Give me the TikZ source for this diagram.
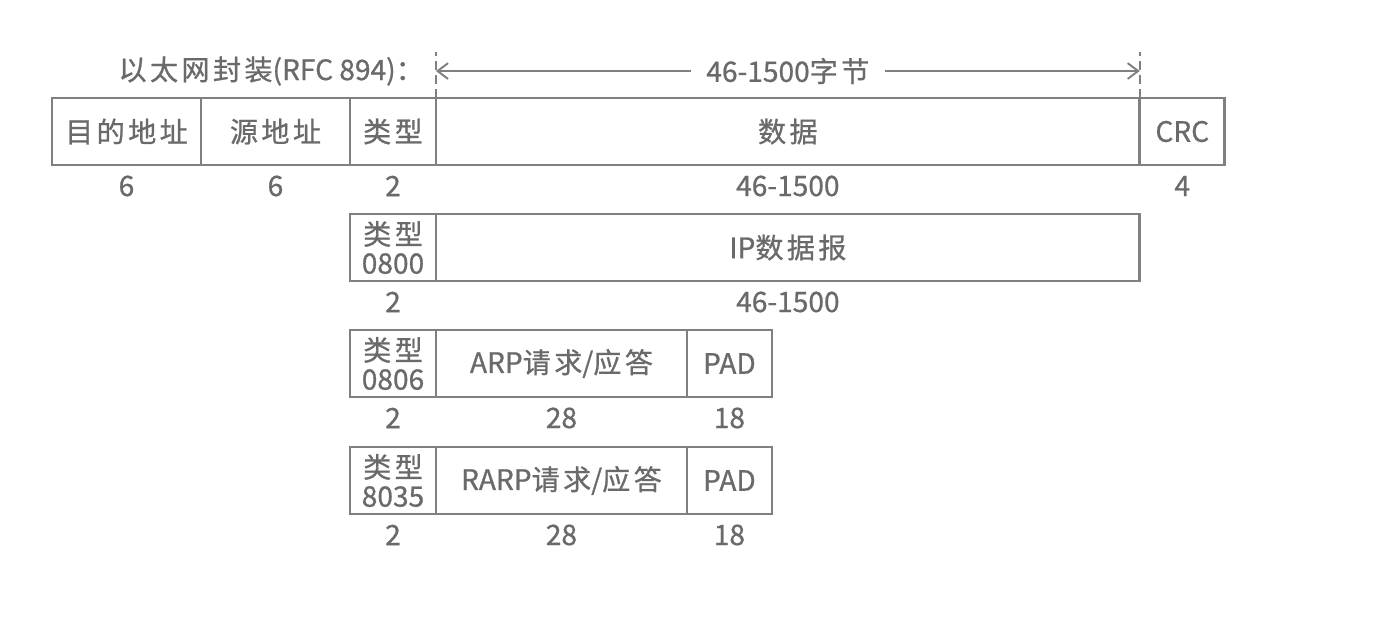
\documentclass[tikz,border=0pt]{standalone}
\usepackage{fontspec}
\setmainfont{Noto Sans CJK SC}[FakeBold=0.8]
\newfontfamily\zh{Noto Sans CJK SC}[FakeBold=0.8, LetterSpace=12]
\usepackage{xcolor}
\usetikzlibrary{arrows.meta, positioning}
\definecolor{linegray}{HTML}{808080}
\definecolor{textgray}{HTML}{6A6A6A}

\begin{document}
\begin{tikzpicture}[x=0.02cm, y=-0.02cm,
    field/.style={draw=linegray, line width=1.6pt, minimum height=1.34cm, inner sep=0pt,
      outer sep=0pt, text=textgray, font=\fontsize{16}{16.5}\selectfont, align=center},
    size/.style={text=textgray, font=\fontsize{16}{16.5}\selectfont},
    dim/.style={draw=linegray, line width=1.1pt, dash pattern=on 5pt off 3pt},
    arr/.style={{Straight Barb[length=6pt,width=9pt]}-{Straight Barb[length=6pt,width=9pt]}, draw=linegray, line width=1.1pt},
    node distance=0pt
  ]
  \useasboundingbox (0,0) rectangle (1400,627);
  % Ethernet frame
  \node[field, anchor=north west, minimum width=2.98cm] (dst) at (52,98) {\zh 目的地址};
  \node[field, minimum width=2.98cm, right=of dst] (src) {\zh 源地址};
  \node[field, minimum width=1.72cm, right=of src] (type) {\zh 类型};
  \node[field, minimum width=14.08cm, right=of type] (data) {\zh 数据};
  \node[field, minimum width=1.70cm, right=of data] (crc) {CRC};
  \node[size, anchor=east] (title) at (430,71) {{\zh 以太网封装}(RFC 894)：};
  \node[size] at ([yshift=-0.42cm]dst.south) {6};
  \node[size] at ([yshift=-0.42cm]src.south) {6};
  \node[size] at ([yshift=-0.42cm]type.south) {2};
  \node[size] at ([yshift=-0.42cm]data.south) {46-1500};
  \node[size] at ([yshift=-0.42cm]crc.south) {4};
  % data length
  \coordinate (dl) at ([yshift=0.92cm]data.north west);
  \coordinate (dr) at ([yshift=0.92cm]data.north east);
  \coordinate (al) at ([yshift=0.54cm]data.north west);
  \coordinate (ar) at ([yshift=0.54cm]data.north east);
  \draw[dim] (data.north west) -- (dl);
  \draw[dim] (data.north east) -- (dr);
  \draw[arr] (al) -- (ar) node[midway, fill=white, size, inner xsep=9pt] {46-1500{\zh 字节}};
  % IP
  \node[field, anchor=north west, minimum width=1.72cm] (iptype) at (350,214) {{\zh 类型}\\0800};
  \node[field, minimum width=14.08cm, right=of iptype] (ip) {IP{\zh 数据报}};
  \node[size] at ([yshift=-0.42cm]iptype.south) {2};
  \node[size] at ([yshift=-0.42cm]ip.south) {46-1500};
  % ARP
  \node[field, anchor=north west, minimum width=1.72cm] (arptype) at (350,330) {{\zh 类型}\\0806};
  \node[field, minimum width=5.02cm, right=of arptype] (arp) {ARP{\zh 请求}/{\zh 应答}};
  \node[field, minimum width=1.70cm, right=of arp] (arppad) {PAD};
  \node[size] at ([yshift=-0.42cm]arptype.south) {2};
  \node[size] at ([yshift=-0.42cm]arp.south) {28};
  \node[size] at ([yshift=-0.42cm]arppad.south) {18};
  % RARP
  \node[field, anchor=north west, minimum width=1.72cm] (rarptype) at (350,447) {{\zh 类型}\\8035};
  \node[field, minimum width=5.02cm, right=of rarptype] (rarp) {RARP{\zh 请求}/{\zh 应答}};
  \node[field, minimum width=1.70cm, right=of rarp] (rarppad) {PAD};
  \node[size] at ([yshift=-0.42cm]rarptype.south) {2};
  \node[size] at ([yshift=-0.42cm]rarp.south) {28};
  \node[size] at ([yshift=-0.42cm]rarppad.south) {18};
\end{tikzpicture}
\end{document}
